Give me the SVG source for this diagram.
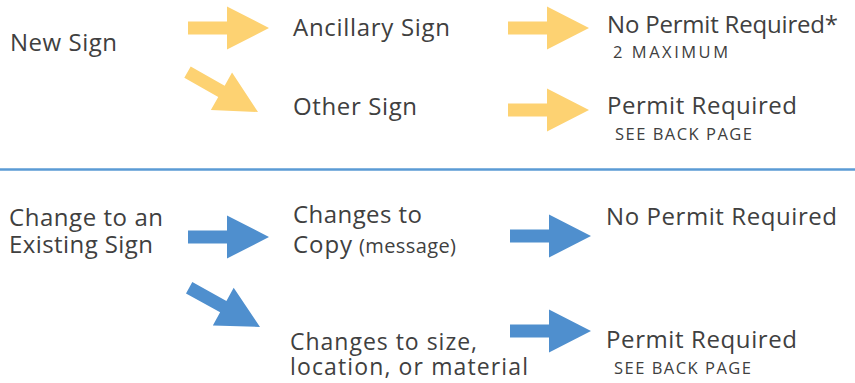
<svg xmlns="http://www.w3.org/2000/svg" xmlns:xlink="http://www.w3.org/1999/xlink" width="855" height="383" viewBox="0 0 855 383">
<style>
text{font-family:"Open Sans","Noto Sans","DejaVu Sans",sans-serif;fill:#404040;}
.lg{font-size:24px;}
.lg2{font-size:23px;}
.sm{font-size:16.5px;}
.md{font-size:20px;}
.y{fill:#FDD272;}
.b{fill:#4F8FCE;}
</style>
<defs>
<polygon id="arr" points="-81,-6.5 -42,-6.5 -42,-21.5 0,0 -42,21.5 -42,6.5 -81,6.5"/>
</defs>
<rect width="855" height="383" fill="#ffffff"/>
<line x1="0" y1="169.5" x2="855" y2="169.5" stroke="#5B9BD5" stroke-width="2.5"/>
<g id="connectors">
<use xlink:href="#arr" class="y" transform="translate(269,28)"/>
<use xlink:href="#arr" class="y" transform="translate(258,112) rotate(29.5)"/>
<use xlink:href="#arr" class="y" transform="translate(589,28)"/>
<use xlink:href="#arr" class="y" transform="translate(589,110)"/>
<use xlink:href="#arr" class="b" transform="translate(269,237)"/>
<use xlink:href="#arr" class="b" transform="translate(260,327) rotate(29)"/>
<use xlink:href="#arr" class="b" transform="translate(591,236)"/>
<use xlink:href="#arr" class="b" transform="translate(591,331)"/>
</g>
<g id="new-sign"><text class="lg" x="10" y="51" textLength="107">New Sign</text></g>
<g id="ancillary-sign"><text class="lg" x="293" y="36" textLength="157">Ancillary Sign</text></g>
<g id="other-sign"><text class="lg" x="293" y="115" textLength="124">Other Sign</text></g>
<g id="no-permit-1">
<text class="lg" x="607" y="33" textLength="231">No Permit Required*</text>
<text class="sm" x="613" y="57.5" textLength="115">2 MAXIMUM</text>
</g>
<g id="permit-1">
<text class="lg" x="607" y="114" textLength="190">Permit Required</text>
<text class="sm" x="615" y="140" textLength="137">SEE BACK PAGE</text>
</g>
<g id="change-existing">
<text class="lg"><tspan x="9" y="226" textLength="154">Change to an</tspan><tspan x="9" y="253" textLength="144">Existing Sign</tspan></text>
</g>
<g id="changes-copy">
<text class="lg"><tspan x="293" y="223" textLength="129">Changes to</tspan><tspan x="293" y="253" textLength="59">Copy</tspan><tspan class="md" x="359" y="253" textLength="97">(message)</tspan></text>
</g>
<g id="changes-size">
<text class="lg2"><tspan x="290" y="350" textLength="187">Changes to size,</tspan><tspan x="290" y="375" textLength="238">location, or material</tspan></text>
</g>
<g id="no-permit-2"><text class="lg" x="606" y="225" textLength="231">No Permit Required</text></g>
<g id="permit-2">
<text class="lg" x="606" y="348" textLength="191">Permit Required</text>
<text class="sm" x="614" y="373.5" textLength="137">SEE BACK PAGE</text>
</g>
</svg>
